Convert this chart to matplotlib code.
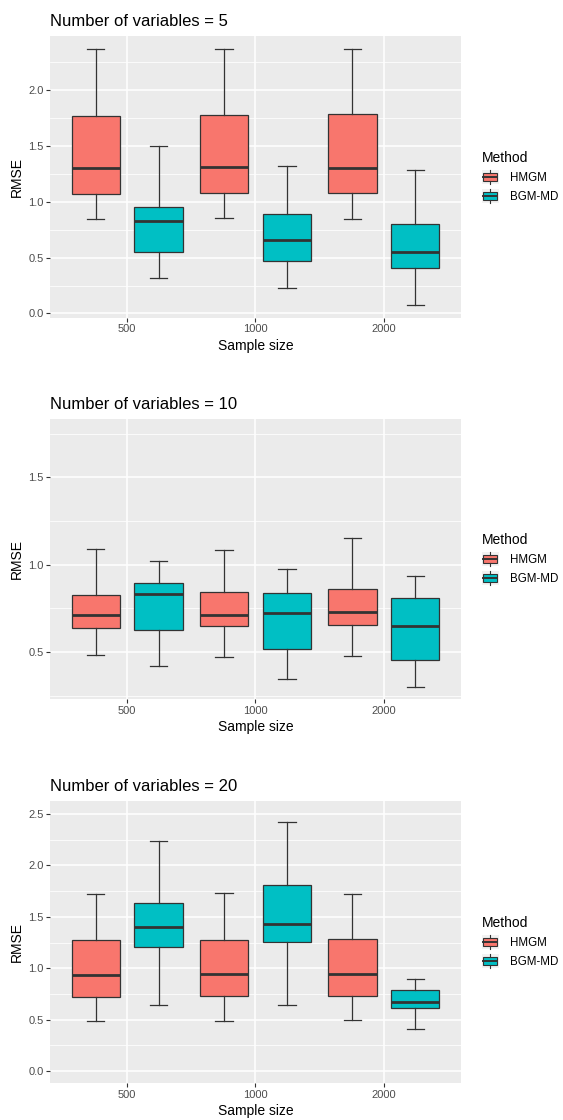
import matplotlib
matplotlib.use("Agg")
import matplotlib.pyplot as plt
from matplotlib.legend_handler import HandlerBase
from matplotlib.patches import Rectangle
from matplotlib.lines import Line2D


SAMPLE_SIZES = ["500", "1000", "2000"]
METHODS = ["HMGM", "BGM-MD"]
COLORS = {"HMGM": "#F8766D", "BGM-MD": "#00BFC4"}

# five-number summaries: whisker low, Q1, median, Q3, whisker high
HMGM_5 = [
    [0.845, 1.069, 1.301, 1.767, 2.367],
    [0.851, 1.075, 1.307, 1.776, 2.367],
    [0.845, 1.075, 1.301, 1.785, 2.367],
]
BGM_5 = [
    [0.322, 0.549, 0.824, 0.952, 1.499],
    [0.227, 0.472, 0.660, 0.893, 1.319],
    [0.072, 0.409, 0.549, 0.803, 1.284],
]
HMGM_10 = [
    [0.486, 0.638, 0.710, 0.829, 1.091],
    [0.472, 0.648, 0.714, 0.842, 1.086],
    [0.478, 0.657, 0.728, 0.863, 1.152],
]
BGM_10 = [
    [0.419, 0.629, 0.832, 0.893, 1.023],
    [0.345, 0.520, 0.724, 0.836, 0.975],
    [0.299, 0.457, 0.651, 0.810, 0.937],
]
HMGM_20 = [
    [0.484, 0.724, 0.935, 1.279, 1.727],
    [0.490, 0.731, 0.945, 1.279, 1.734],
    [0.497, 0.731, 0.948, 1.286, 1.727],
]
BGM_20 = [
    [0.643, 1.208, 1.406, 1.636, 2.240],
    [0.643, 1.253, 1.435, 1.808, 2.425],
    [0.409, 0.614, 0.669, 0.786, 0.893],
]

PANELS = [
    {"n_vars": 5, "data": {"HMGM": HMGM_5, "BGM-MD": BGM_5},
     "ylim": (-0.04, 2.483), "yticks": [0.0, 0.5, 1.0, 1.5, 2.0],
     "rect": [0.0888, 0.7161, 0.730, 0.2518]},
    {"n_vars": 10, "data": {"HMGM": HMGM_10, "BGM-MD": BGM_10},
     "ylim": (0.232, 1.834), "yticks": [0.5, 1.0, 1.5],
     "rect": [0.0888, 0.3759, 0.730, 0.2500]},
    {"n_vars": 20, "data": {"HMGM": HMGM_20, "BGM-MD": BGM_20},
     "ylim": (-0.117, 2.627), "yticks": [0.0, 0.5, 1.0, 1.5, 2.0, 2.5],
     "rect": [0.0888, 0.0330, 0.730, 0.2518]},
]

plt.rcParams["font.family"] = ["Liberation Sans", "DejaVu Sans"]

EDGE = "#333333"
BOX_W = 0.375
OFFSET = 0.245


class BoxKeyHandler(HandlerBase):
    """Small boxplot glyph for the legend, like ggplot's key."""

    def create_artists(self, legend, orig_handle, xdescent, ydescent,
                       width, height, fontsize, trans):
        color = orig_handle.get_facecolor()
        x_left = -xdescent
        y_bot = -ydescent
        bg = Rectangle((x_left, y_bot), width, height,
                       facecolor="#F2F2F2", edgecolor="none", transform=trans)
        x0 = x_left + width * 0.1
        w = width * 0.8
        b0 = y_bot + height * 0.2
        b1 = y_bot + height * 0.8
        box = Rectangle((x0, b0), w, b1 - b0,
                        facecolor=color, edgecolor=EDGE, lw=0.8, transform=trans)
        cx = x0 + w / 2
        med = Line2D([x0, x0 + w], [y_bot + height * 0.5] * 2,
                     color=EDGE, lw=1.4, transform=trans)
        top = Line2D([cx, cx], [b1, y_bot + height], color=EDGE, lw=0.8,
                     transform=trans)
        bot = Line2D([cx, cx], [y_bot, b0], color=EDGE, lw=0.8,
                     transform=trans)
        return [bg, box, med, top, bot]


def draw_panel(fig, panel):
    ax = fig.add_axes(panel["rect"])
    ax.set_facecolor("#EBEBEB")
    for side in ax.spines.values():
        side.set_visible(False)

    y0, y1 = panel["ylim"]
    ticks = panel["yticks"]
    step = ticks[1] - ticks[0]
    minor = [t + step / 2 for t in [ticks[0] - step] + ticks]
    minor = [m for m in minor if y0 < m < y1]

    for m in minor:
        ax.axhline(m, color="white", lw=0.55, zorder=0)
    for t in ticks:
        ax.axhline(t, color="white", lw=1.1, zorder=0)
    for i in range(len(SAMPLE_SIZES)):
        ax.axvline(i + 1, color="white", lw=1.1, zorder=0)

    for j, method in enumerate(METHODS):
        offset = -OFFSET if j == 0 else OFFSET
        stats = []
        for five in panel["data"][method]:
            lo, q1, med, q3, hi = five
            stats.append({"whislo": lo, "q1": q1, "med": med, "q3": q3,
                          "whishi": hi, "fliers": []})
        positions = [i + 1 + offset for i in range(len(SAMPLE_SIZES))]
        ax.bxp(stats, positions=positions, widths=BOX_W,
               capwidths=BOX_W * 0.36, patch_artist=True, showfliers=False,
               manage_ticks=False,
               boxprops={"facecolor": COLORS[method], "edgecolor": EDGE, "lw": 0.9},
               medianprops={"color": EDGE, "lw": 2.0},
               whiskerprops={"color": EDGE, "lw": 0.9},
               capprops={"color": EDGE, "lw": 0.9})

    ax.set_xlim(0.4, len(SAMPLE_SIZES) + 0.6)
    ax.set_ylim(y0, y1)
    ax.set_xticks(range(1, len(SAMPLE_SIZES) + 1))
    ax.set_xticklabels(SAMPLE_SIZES)
    ax.set_yticks(ticks)
    ax.set_yticklabels([f"{t:.1f}" for t in ticks])
    ax.tick_params(colors="#333333", labelcolor="#4D4D4D", labelsize=8,
                   length=2.7, width=0.8, pad=2)
    ax.set_xlabel("Sample size", fontsize=10, labelpad=3)
    ax.set_ylabel("RMSE", fontsize=10, labelpad=3)
    ax.set_title(f"Number of variables = {panel['n_vars']}", loc="left",
                 fontsize=12, pad=7)
    ax.title.set_position((-0.003, 1.0))

    handles = [Rectangle((0, 0), 1, 1, facecolor=COLORS[m]) for m in METHODS]
    leg = ax.legend(handles, METHODS, title="Method", loc="center left",
                    bbox_to_anchor=(1.05, 0.5), frameon=False, fontsize=8.3,
                    title_fontsize=10, handler_map={Rectangle: BoxKeyHandler()},
                    handlelength=1.5, handleheight=1.5, labelspacing=0.45,
                    handletextpad=1.0, borderaxespad=0, borderpad=0)
    leg._legend_box.align = "left"
    return ax


fig = plt.figure(figsize=(5.63, 11.2), dpi=100)
for panel in PANELS:
    draw_panel(fig, panel)

fig.savefig("out.png", dpi=100)
plt.close(fig)
